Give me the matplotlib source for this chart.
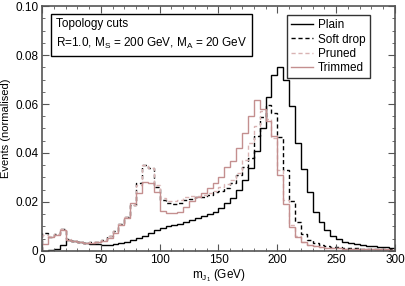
import numpy as np
import matplotlib as mpl
mpl.use('Agg')
import matplotlib.pyplot as plt

plt.rcParams['font.family'] = ['Liberation Sans', 'DejaVu Sans']
plt.rcParams['mathtext.fontset'] = 'custom'
plt.rcParams['mathtext.rm'] = 'Liberation Sans'
plt.rcParams['mathtext.it'] = 'Liberation Sans'

# 5 GeV bins from 0 to 300
edges = np.arange(0, 305, 5)

plain = [0.0002, 0.0003, 0.001, 0.0025, 0.0045, 0.0042, 0.0038, 0.0034, 0.003, 0.0028,
         0.0026, 0.0026, 0.0028, 0.0032, 0.0037, 0.0044, 0.0052, 0.006, 0.0075, 0.0085,
         0.0095, 0.0102, 0.0108, 0.0112, 0.0118, 0.0128, 0.0135, 0.0142, 0.015, 0.016,
         0.0175, 0.0195, 0.0215, 0.025, 0.029, 0.034, 0.041, 0.05, 0.063, 0.072,
         0.075, 0.070, 0.059, 0.044, 0.0335, 0.024, 0.016, 0.012, 0.0086, 0.0061,
         0.0048, 0.0038, 0.0032, 0.0027, 0.0024, 0.0021, 0.0019, 0.0017, 0.0015, 0.0012]

soft_drop = [0.0075, 0.0058, 0.0068, 0.0088, 0.0048, 0.0042, 0.0037, 0.0034, 0.0035, 0.0038,
             0.0045, 0.006, 0.008, 0.011, 0.014, 0.0188, 0.0276, 0.0351, 0.0337, 0.0263,
             0.0208, 0.0195, 0.019, 0.0195, 0.021, 0.0212, 0.022, 0.0222, 0.0229, 0.0239,
             0.0245, 0.0257, 0.0276, 0.031, 0.0343, 0.038, 0.047, 0.0548, 0.0596, 0.0565,
             0.0467, 0.033, 0.0205, 0.012, 0.0068, 0.0045, 0.0032, 0.0025, 0.002, 0.0017,
             0.0015, 0.0013, 0.0012, 0.0011, 0.001, 0.0009, 0.0008, 0.0008, 0.0007, 0.0007]

pruned = [0.0065, 0.006, 0.0068, 0.0088, 0.0048, 0.0042, 0.0037, 0.0034, 0.0035, 0.0038,
          0.0045, 0.006, 0.008, 0.011, 0.014, 0.0188, 0.027, 0.035, 0.034, 0.027,
          0.0215, 0.0205, 0.0205, 0.021, 0.022, 0.0225, 0.0225, 0.023, 0.0235, 0.0245,
          0.026, 0.0275, 0.029, 0.032, 0.037, 0.044, 0.051, 0.057, 0.054, 0.046,
          0.033, 0.021, 0.0105, 0.006, 0.0035, 0.0026, 0.002, 0.0017, 0.0014, 0.0012,
          0.0011, 0.001, 0.0009, 0.0008, 0.0008, 0.0007, 0.0007, 0.0006, 0.0006, 0.0006]

trimmed = [0.003, 0.0058, 0.0065, 0.0085, 0.0045, 0.004, 0.0036, 0.0033, 0.0033, 0.0036,
           0.0042, 0.0055, 0.0075, 0.0105, 0.0135, 0.0195, 0.0235, 0.0283, 0.0276, 0.0242,
           0.0165, 0.0155, 0.0155, 0.016, 0.0178, 0.0205, 0.022, 0.0238, 0.0258, 0.0276,
           0.030, 0.0343, 0.0367, 0.042, 0.048, 0.055, 0.0615, 0.058, 0.053, 0.047,
           0.031, 0.019, 0.0097, 0.0056, 0.0035, 0.0025, 0.002, 0.0016, 0.0014, 0.0012,
           0.0011, 0.001, 0.0009, 0.0009, 0.0008, 0.0008, 0.0007, 0.0007, 0.0007, 0.0006]

pink = '#c48f8f'
pink_light = '#d9b3b3'

fig = plt.figure(figsize=(4.05, 2.86), dpi=100)
ax = fig.add_axes([0.1037, 0.1224, 0.8716, 0.8566])

ax.stairs(plain, edges, color='black', lw=1.0, label='Plain')
ax.stairs(soft_drop, edges, color='black', lw=1.0, ls=(0, (3, 2)), label='Soft drop')
ax.stairs(pruned, edges, color=pink_light, lw=1.0, ls=(0, (3, 2)), label='Pruned')
ax.stairs(trimmed, edges, color=pink, lw=1.0, label='Trimmed')

ax.set_xlim(0, 300)
ax.set_ylim(0, 0.10)
ax.set_xticks(np.arange(0, 301, 50))
ax.set_xticks(np.arange(0, 301, 10), minor=True)
ax.set_yticks([0, 0.02, 0.04, 0.06, 0.08, 0.10])
ax.set_yticklabels(['0', '0.02', '0.04', '0.06', '0.08', '0.10'])
ax.set_yticks(np.arange(0, 0.1001, 0.005), minor=True)
ax.tick_params(which='both', direction='in', top=True, right=True, labelsize=8.5, color='#555555')
ax.tick_params(which='major', length=5, pad=2.5)
ax.tick_params(which='minor', length=2.5)
for s in ax.spines.values():
    s.set_color('#555555')
    s.set_linewidth(1.2)

ax.set_xlabel('m$_{J_1}$ (GeV)', fontsize=8.5, labelpad=1)
ax.set_ylabel('Events (normalised)', fontsize=8)
ax.yaxis.set_label_coords(-0.087, 0.5)

ax.text(0.04, 0.952, 'Topology cuts\nR=1.0, M$_S$ = 200 GeV, M$_A$ = 20 GeV',
        transform=ax.transAxes, fontsize=8.5, va='top', ha='left', linespacing=1.55,
        bbox=dict(boxstyle='square,pad=0.4', fc='white', ec='black', lw=1.0))

leg = ax.legend(loc='upper right', bbox_to_anchor=(0.929, 0.963), fontsize=8.5,
                frameon=True, fancybox=False, edgecolor='black', borderpad=0.35,
                labelspacing=0.2, handlelength=1.9, handletextpad=0.4, borderaxespad=0)
leg.get_frame().set_linewidth(1.0)

fig.savefig('out.png', dpi=100)
